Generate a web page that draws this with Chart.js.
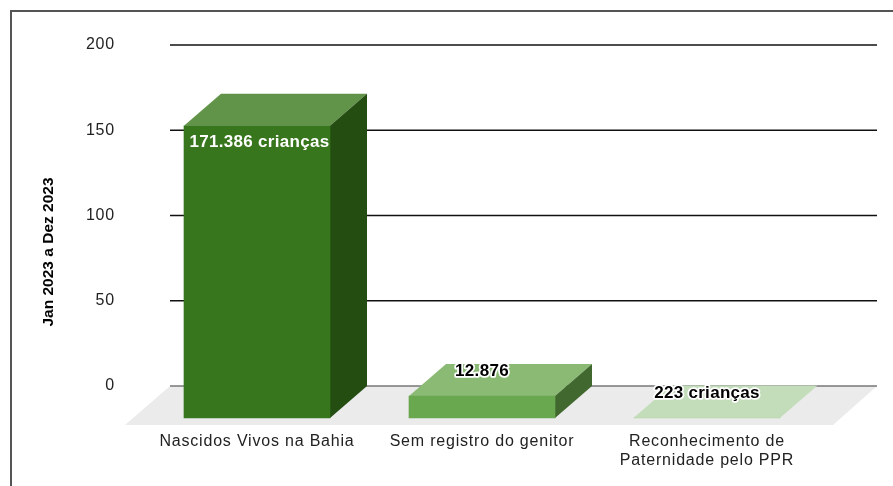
<!DOCTYPE html>
<html>
<head>
<meta charset="utf-8">
<script src="https://cdn.jsdelivr.net/npm/chart.js@4"></script>
<style>
  body { margin: 0; background: #fff; }
  #wrap { position: relative; width: 893px; height: 486px; overflow: hidden; }
  #frame { position: absolute; left: 10px; top: 10px; right: 0; bottom: 0; border-left: 2px solid #555; border-top: 2px solid #555; }
  #graph { position: absolute; left: 0; top: 0; }
</style>
</head>
<body>
<div id="wrap">
  <div id="frame"></div>
  <canvas id="graph" width="893" height="486"></canvas>
</div>
<script>
const categories = ["Nascidos Vivos na Bahia", "Sem registro do genitor", ["Reconhecimento de", "Paternidade pelo PPR"]];
const values = [171.386, 12.876, 0.223];
const valueLabels = ["171.386 crianças", "12.876", "223 crianças"];
const tickValues = [0, 50, 100, 150, 200];
const axisTitle = "Jan 2023 a Dez 2023";

const frontColors = ["#38761d", "#6aa84f", "#b6d7a8"];
const topColors = ["#619348", "#8aba74", "#c3dcb9"];
const sideColors = ["#234d11", "#41692f", "#c3dcb9"];

// depth of the fake 3d, bars sit this far in front of the axis plane
const depthX = 37;
const depthY = 32;
const sansFont = '"Liberation Sans", Arial, sans-serif';

function poly(ctx, color, pts) {
  ctx.fillStyle = color;
  ctx.beginPath();
  pts.forEach((p, i) => i ? ctx.lineTo(p[0], p[1]) : ctx.moveTo(p[0], p[1]));
  ctx.closePath();
  ctx.fill();
}

const fake3d = {
  id: 'fake3d',
  beforeDraw(chart) {
    chart.ctx.letterSpacing = '0.8px';
  },
  beforeDatasetsDraw(chart) {
    const ctx = chart.ctx;
    const y = chart.scales.y;
    const area = chart.chartArea;
    const left = area.left - 11.5;
    const right = area.right + 20.5;
    const zero = y.getPixelForValue(0);

    // floor
    poly(ctx, "#ebebeb", [[left, zero], [right, zero], [right - 44, zero + 39], [left - 45, zero + 39]]);

    // grid lines
    tickValues.forEach(v => {
      ctx.strokeStyle = v === 0 ? "#777" : "#111";
      ctx.lineWidth = 1.3;
      ctx.beginPath();
      ctx.moveTo(left, y.getPixelForValue(v));
      ctx.lineTo(right, y.getPixelForValue(v));
      ctx.stroke();
    });

    // top and side faces
    chart.getDatasetMeta(0).data.forEach((bar, i) => {
      const x1 = bar.x - bar.width / 2 - depthX;
      const x2 = bar.x + bar.width / 2 - depthX;
      const yt = bar.y + depthY;
      const yb = bar.base + depthY;
      poly(ctx, topColors[i], [[x1, yt], [x2, yt], [x2 + depthX, yt - depthY], [x1 + depthX, yt - depthY]]);
      poly(ctx, sideColors[i], [[x2, yt], [x2 + depthX, yt - depthY], [x2 + depthX, yb - depthY], [x2, yb]]);
    });
  },
  beforeDatasetDraw(chart) {
    chart.ctx.save();
    chart.ctx.translate(-depthX, depthY);
  },
  afterDatasetDraw(chart) {
    chart.ctx.restore();
  },
  afterDraw(chart) {
    const ctx = chart.ctx;
    ctx.save();
    ctx.textAlign = 'center';
    ctx.textBaseline = 'middle';
    ctx.lineJoin = 'round';
    ctx.letterSpacing = '0.3px';
    ctx.font = 'bold 17px ' + sansFont;
    chart.getDatasetMeta(0).data.forEach((bar, i) => {
      const x = bar.x - depthX;
      const top = bar.y + depthY;
      if (i === 0) {
        ctx.fillStyle = "#fff";
        ctx.fillText(valueLabels[i], x + 2.5, top + 17);
      } else {
        ctx.strokeStyle = "#fff";
        ctx.lineWidth = 3.5;
        ctx.strokeText(valueLabels[i], x, top - 24.5);
        ctx.fillStyle = "#000";
        ctx.fillText(valueLabels[i], x, top - 24.5);
      }
    });

    // axis title sits lower than the middle of the axis
    ctx.letterSpacing = '0px';
    ctx.font = 'bold 15.5px ' + sansFont;
    ctx.fillStyle = "#000";
    ctx.translate(49, 252);
    ctx.rotate(-Math.PI / 2);
    ctx.fillText(axisTitle, 0, 0);
    ctx.restore();
  }
};

const chart = new Chart(document.getElementById('graph').getContext('2d'), {
  type: 'bar',
  data: {
    labels: categories,
    datasets: [{
      data: values,
      backgroundColor: frontColors,
      barThickness: 146,
      clip: false
    }]
  },
  options: {
    responsive: false,
    animation: false,
    layout: { padding: { top: 45, right: 36.5, bottom: 10, left: 0 } },
    plugins: {
      legend: { display: false },
      title: { display: false },
      tooltip: { enabled: false }
    },
    scales: {
      x: {
        grid: { display: false, drawTicks: false },
        border: { display: false },
        afterFit(scale) { scale.height = 90; },
        ticks: {
          color: "#222",
          font: { family: sansFont, size: 16 },
          padding: 45.5,
          labelOffset: -depthX,
          maxRotation: 0,
          autoSkip: false
        }
      },
      y: {
        min: 0,
        max: 200,
        // tickLength only pushes the labels left, the ticks themselves are not drawn
        grid: { display: false, drawTicks: true, tickLength: 66.5 },
        border: { display: false },
        afterFit(scale) { scale.width = 181.5; },
        afterBuildTicks(scale) { scale.ticks = tickValues.map(v => ({ value: v })); },
        ticks: {
          color: "#222",
          font: { family: sansFont, size: 16 },
          padding: 0
        }
      }
    }
  },
  plugins: [fake3d]
});
</script>
</body>
</html>
